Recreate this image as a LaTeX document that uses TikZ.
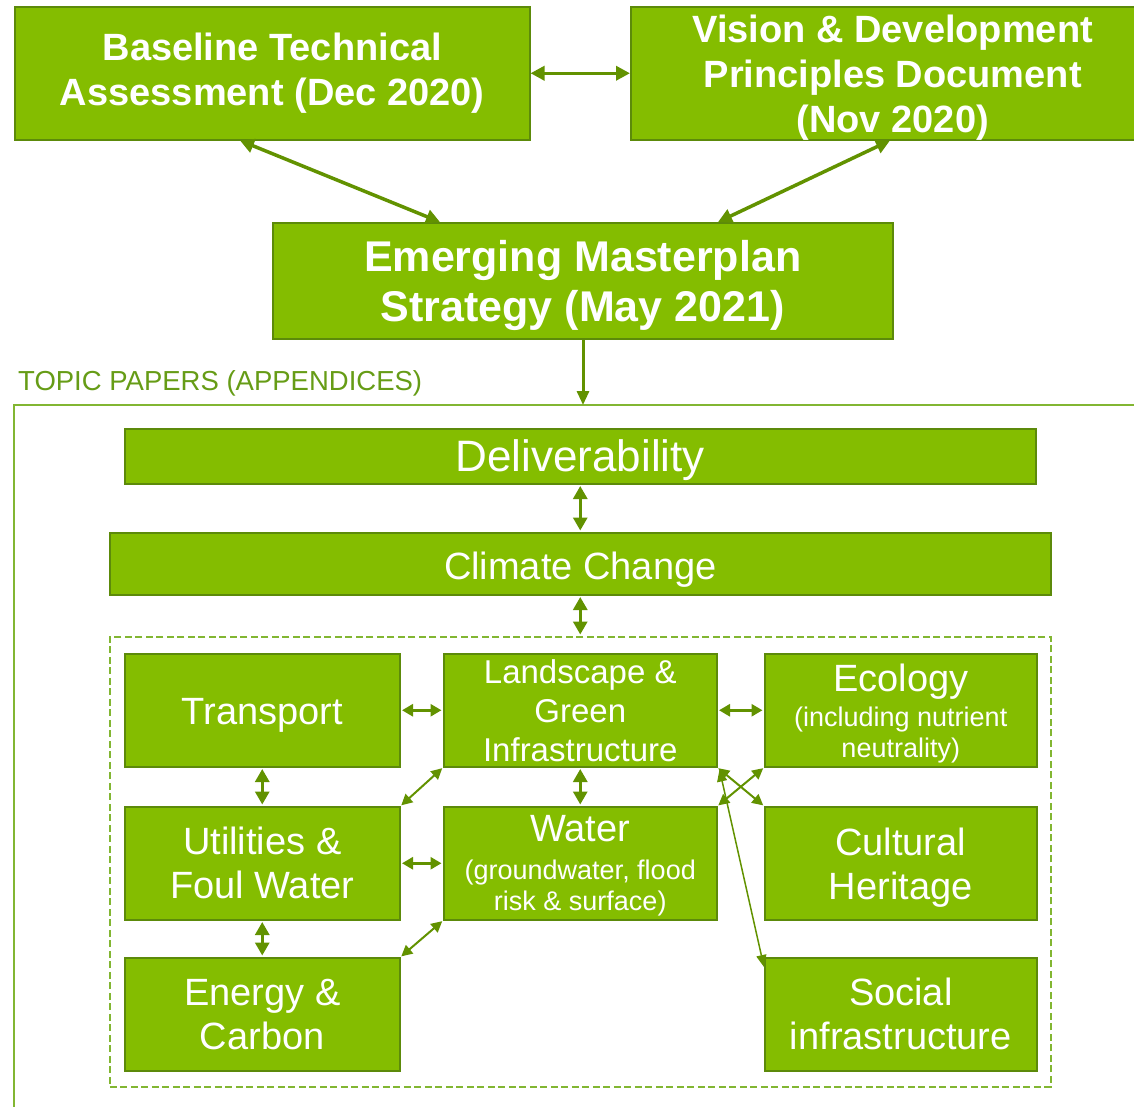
\documentclass[tikz,border=0pt]{standalone}
\usepackage{fontspec}
\setmainfont{Liberation Sans}
\usetikzlibrary{arrows.meta,calc}
\definecolor{boxfill}{RGB}{132,189,0}
\definecolor{boxline}{RGB}{92,138,10}
\definecolor{arrowc}{RGB}{98,146,0}
\definecolor{framec}{RGB}{130,182,50}
\definecolor{labelc}{RGB}{102,156,22}
\begin{document}
\begin{tikzpicture}[x=1pt,y=-1pt,
  box/.style={draw=boxline, line width=1.5pt, fill=boxfill, text=white, align=center, anchor=north west, inner sep=0pt},
  sz/.style 2 args={minimum width=#1, minimum height=#2},
  bigfont/.style={font=\fontsize{38}{45}\selectfont\bfseries},
  hugefont/.style={font=\fontsize{43}{50}\selectfont\bfseries},
  topicfont/.style={font=\fontsize{38}{44}\selectfont},
  biga/.style={color=arrowc, line width=3.5pt, arrows={Triangle[length=14pt,width=14pt]-Triangle[length=14pt,width=14pt]}},
  downa/.style={color=arrowc, line width=3pt, arrows={-Triangle[length=14pt,width=12pt]}},
  hora/.style={color=arrowc, line width=3pt, shorten >=1.5pt, shorten <=1.5pt, arrows={Triangle[length=11pt,width=12pt]-Triangle[length=11pt,width=12pt]}},
  vera/.style={color=arrowc, line width=3pt, shorten >=1.5pt, shorten <=1.5pt, arrows={Triangle[length=13pt,width=14pt]-Triangle[length=13pt,width=14pt]}},
  diaga/.style={color=arrowc, line width=2pt, shorten >=1pt, shorten <=1pt, arrows={Triangle[length=11pt,width=11pt]-Triangle[length=11pt,width=11pt]}},
  thina/.style={color=arrowc, line width=1.5pt, arrows={Triangle[length=12pt,width=10pt]-Triangle[length=12pt,width=10pt]}},
  dashbox/.style={draw=framec, line width=1.5pt, dash pattern=on 7pt off 3.5pt, anchor=north west, inner sep=0pt}
]
\useasboundingbox (0,0) rectangle (1134,1106);

% top documents
\node[box, sz={515}{133}, bigfont] (baseline) at (14,6) {Baseline Technical\\Assessment (Dec 2020)};
\node[box, sz={524}{133}, bigfont, text depth=0pt] (vision) at (630,6) {Vision \& Development\\Principles Document\\(Nov 2020)};
\node[box, sz={620}{116}, hugefont, text depth=0pt] (emerging) at (272,222) {Emerging Masterplan\\Strategy (May 2021)};

\draw[biga] (baseline.east) -- (vision.west);
\draw[biga] ($(baseline.south west)+(226,0)$) -- ($(emerging.north west)+(168,0)$);
\draw[biga] ($(vision.south west)+(260,0)$) -- ($(emerging.north west)+(446,0)$);

% topic papers frame
\node[anchor=base west, text=labelc, font=\fontsize{27.5}{30}\selectfont, inner sep=0pt] (topiclabel) at (18,390) {TOPIC PAPERS (APPENDICES)};
\coordinate (frameright) at (1140,405);
\coordinate (framecorner) at (14,405);
\coordinate (framebottom) at (14,1112);
\draw[framec, line width=1.5pt] (frameright) -- (framecorner) -- (framebottom);
\coordinate (frametop) at (583,405);
\draw[downa] (emerging.south -| frametop) -- (frametop);

% topic boxes
\node[box, sz={911}{55}, font=\fontsize{44}{48}\selectfont, text height=31pt, text depth=0pt] (deliv) at (124,428) {Deliverability};
\node[box, sz={941}{62}, topicfont, text height=31pt, text depth=0pt] (climate) at (109,532) {Climate Change};
\node[dashbox, sz={941}{450}] (topics) at (109,636) {};

\node[box, sz={275}{113}, topicfont, text height=28pt, text depth=0pt] (transport) at (124,653) {Transport};
\node[box, sz={273}{113}, font=\fontsize{33}{39}\selectfont] (landscape) at (443,653) {Landscape \&\\Green\\Infrastructure};
\node[box, sz={272}{113}, font=\fontsize{27}{31}\selectfont, text depth=0pt] (ecology) at (764,653) {{\fontsize{38}{40}\selectfont Ecology}\\[4pt](including nutrient\\neutrality)};

\node[box, sz={275}{113}, topicfont] (utilities) at (124,806) {Utilities \&\\Foul Water};
\node[box, sz={273}{113}, font=\fontsize{27}{31.5}\selectfont, text depth=0pt] (water) at (443,806) {{\fontsize{38}{40}\selectfont Water}\\[6pt](groundwater, flood\\risk \& surface)};
\node[box, sz={272}{113}, topicfont, text depth=0pt] (cultural) at (764,806) {Cultural\\Heritage};

\node[box, sz={275}{113}, topicfont] (energy) at (124,957) {Energy \&\\Carbon};
\node[box, sz={272}{113}, topicfont] (social) at (764,957) {Social\\infrastructure};

% connectors
\draw[vera] (deliv.south) -- (climate.north);
\draw[vera] (climate.south) -- (topics.north);
\draw[hora] (transport.east) -- (landscape.west);
\draw[hora] (landscape.east) -- (ecology.west);
\draw[hora] (utilities.east) -- (water.west);
\draw[vera] (transport.south) -- (utilities.north);
\draw[vera] (landscape.south) -- (water.north);
\draw[vera] (utilities.south) -- (energy.north);
\draw[diaga] (utilities.north east) -- (landscape.south west);
\draw[diaga] (energy.north east) -- (water.south west);
\draw[diaga] (landscape.south east) -- (cultural.north west);
\draw[diaga] (ecology.south west) -- (water.north east);
\draw[thina] ($(landscape.south east)+(2,2)$) -- ($(social.north west)+(0,10)$);
\end{tikzpicture}
\end{document}
